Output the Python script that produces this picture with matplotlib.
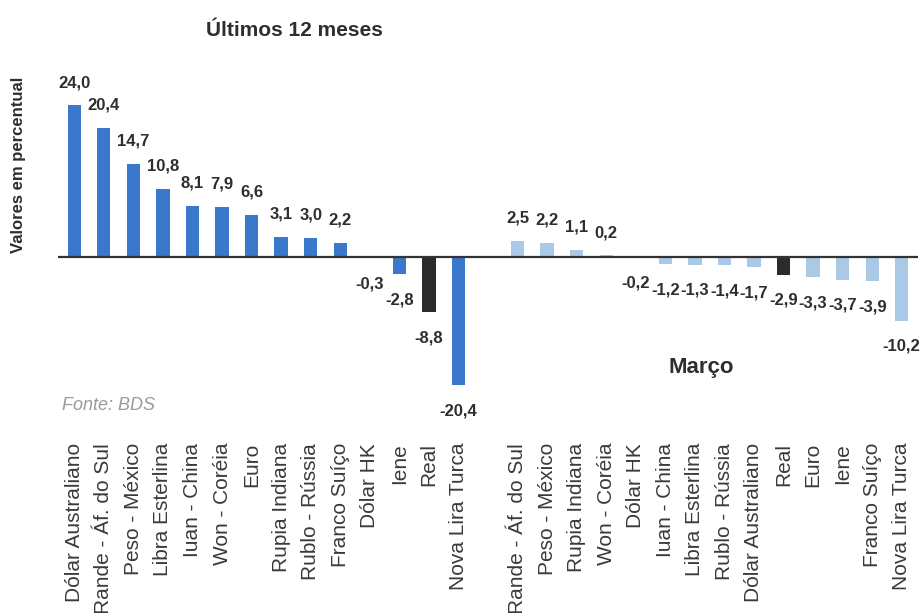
import matplotlib
matplotlib.use("Agg")
import matplotlib.pyplot as plt
import numpy as np

BLUE, LIGHT, DARK, LINE = "#3A78CC", "#A9C9E6", "#2B2B2B", "#333333"

# Últimos 12 meses
ANO_LABELS = ["Dólar Australiano", "Rande - Áf. do Sul", "Peso - México", "Libra Esterlina",
              "Iuan - China", "Won - Coréia", "Euro", "Rupia Indiana", "Rublo - Rússia",
              "Franco Suíço", "Dólar HK", "Iene", "Real", "Nova Lira Turca"]
ANO_VALUES = [24.0, 20.4, 14.7, 10.8, 8.1, 7.9, 6.6, 3.1, 3.0, 2.2, -0.3, -2.8, -8.8, -20.4]

# Março
MES_LABELS = ["Rande - Áf. do Sul", "Peso - México", "Rupia Indiana", "Won - Coréia",
              "Dólar HK", "Iuan - China", "Libra Esterlina", "Rublo - Rússia",
              "Dólar Australiano", "Real", "Euro", "Iene", "Franco Suíço", "Nova Lira Turca"]
MES_VALUES = [2.5, 2.2, 1.1, 0.2, -0.2, -1.2, -1.3, -1.4, -1.7, -2.9, -3.3, -3.7, -3.9, -10.2]

FONT = "Liberation Sans"
TXT = "#2E2E2E"


def fmt(v):
    return f"{v:.1f}".replace(".", ",")


def draw_group(ax, x0, labels, values, color):
    x = np.arange(len(values)) + x0
    colors = [DARK if lab == "Real" else color for lab in labels]
    ax.bar(x, values, width=0.45, color=colors, zorder=2)
    for xi, v in zip(x, values):
        off = 11 if v >= 0 else -13
        ax.annotate(fmt(v), (xi, v), xytext=(0, off), textcoords="offset points",
                    ha="center", va="bottom" if v >= 0 else "top",
                    fontsize=12, fontweight="bold", color=TXT, family=FONT)
    return list(x)


fig = plt.figure(figsize=(9.22, 6.13), dpi=100)
ax = fig.add_axes([58 / 922, (613 - 436) / 613, 860 / 922, 386 / 613])

pos_a = draw_group(ax, 0, ANO_LABELS, ANO_VALUES, BLUE)
pos_m = draw_group(ax, len(ANO_VALUES) + 1, MES_LABELS, MES_VALUES, LIGHT)

ax.axhline(0, color=LINE, lw=1.6, zorder=3)
ax.set_xlim(-0.55, 28.55)
ax.set_ylim(-28.5, 32.8)
ax.set_xticks(pos_a + pos_m)
ax.set_xticklabels(ANO_LABELS + MES_LABELS, rotation=90, fontsize=15,
                   color="#3A3A3A", family=FONT)
ax.tick_params(axis="x", length=0, pad=5)
ax.set_yticks([])
for s in ax.spines.values():
    s.set_visible(False)

fig.text(18 / 922, 1 - 165 / 613, "Valores em percentual", rotation=90, ha="center",
         va="center", fontsize=12, fontweight="bold", color=TXT, family=FONT)
fig.text(294 / 922, 1 - 30 / 613, "Últimos 12 meses", ha="center", va="center",
         fontsize=15, fontweight="bold", color=TXT, family=FONT)
fig.text(701 / 922, 1 - 367 / 613, "Março", ha="center", va="center",
         fontsize=16, fontweight="bold", color=TXT, family=FONT)
fig.text(62 / 922, 1 - 405 / 613, "Fonte: BDS", ha="left", va="center",
         fontsize=13, style="italic", color="#9A9A9A", family=FONT)

fig.savefig("out.png", dpi=100)
